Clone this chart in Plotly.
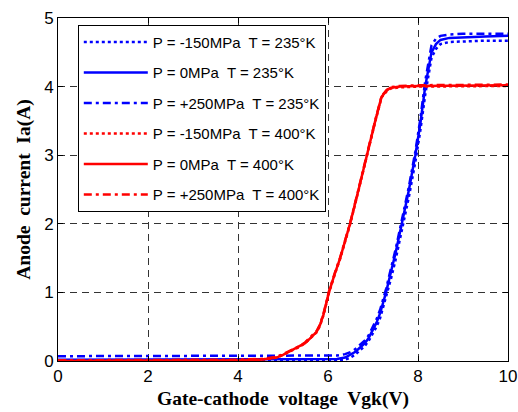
import plotly.graph_objects as go

# Gate-cathode voltage samples (V)
v_235 = [0, 2, 4, 5, 6, 6.2, 6.38, 6.5, 6.6, 6.7, 6.82, 6.9, 7.0, 7.08, 7.16, 7.29, 7.4, 7.5,
         7.64, 7.8, 7.94, 8.05, 8.16, 8.25, 8.3, 8.4, 8.5, 8.7, 9.0, 9.5, 10]
i_235_m150 = [0.0, 0.0, 0.0, 0.01, 0.01, 0.01, 0.02, 0.05, 0.09, 0.15, 0.22, 0.29, 0.4, 0.5, 0.63,
              0.92, 1.2, 1.47, 1.9, 2.4, 2.9, 3.35, 3.88, 4.25, 4.42, 4.55, 4.62, 4.65, 4.66, 4.67, 4.67]
i_235_0 = [0.02, 0.02, 0.02, 0.02, 0.02, 0.03, 0.05, 0.09, 0.13, 0.19, 0.26, 0.33, 0.45, 0.56, 0.7,
           1.0, 1.3, 1.57, 2.0, 2.5, 3.0, 3.45, 4.0, 4.35, 4.5, 4.62, 4.68, 4.71, 4.72, 4.73, 4.74]
i_235_p250 = [0.07, 0.07, 0.07, 0.07, 0.07, 0.08, 0.1, 0.13, 0.17, 0.23, 0.3, 0.37, 0.5, 0.61, 0.75,
              1.05, 1.35, 1.62, 2.05, 2.55, 3.05, 3.52, 4.08, 4.45, 4.6, 4.7, 4.74, 4.76, 4.77, 4.77, 4.77]

v_400 = [0, 2, 4, 4.5, 4.86, 5.0, 5.19, 5.35, 5.49, 5.65, 5.75, 5.82, 5.9, 5.96, 6.02, 6.15, 6.27,
         6.38, 6.49, 6.68, 6.86, 7.05, 7.19, 7.3, 7.38, 7.6, 8.0, 9.0, 10]
i_400_m150 = [0.0, 0.0, 0.01, 0.02, 0.05, 0.09, 0.15, 0.2, 0.26, 0.35, 0.42, 0.51, 0.67, 0.83, 0.99,
              1.26, 1.49, 1.74, 1.99, 2.49, 2.99, 3.49, 3.84, 3.93, 3.97, 3.99, 4.0, 4.01, 4.01]
i_400_0 = [0.0, 0.0, 0.01, 0.02, 0.05, 0.09, 0.155, 0.2, 0.26, 0.36, 0.43, 0.52, 0.68, 0.84, 1.0,
           1.27, 1.5, 1.75, 2.0, 2.5, 3.0, 3.5, 3.85, 3.94, 3.98, 4.0, 4.01, 4.02, 4.02]
i_400_p250 = [0.01, 0.01, 0.02, 0.03, 0.06, 0.1, 0.16, 0.21, 0.27, 0.37, 0.44, 0.53, 0.69, 0.85, 1.01,
              1.28, 1.51, 1.76, 2.01, 2.51, 3.01, 3.51, 3.86, 3.95, 3.99, 4.01, 4.02, 4.03, 4.03]

labels = ["P = -150MPa  T = 235°K", "P = 0MPa  T = 235°K", "P = +250MPa  T = 235°K",
          "P = -150MPa  T = 400°K", "P = 0MPa  T = 400°K", "P = +250MPa  T = 400°K"]

x_title = "Gate-cathode&nbsp; voltage&nbsp; Vgk(V)"
y_title = "Anode&nbsp; current&nbsp; Ia(A)"

x_ticks = [0, 2, 4, 6, 8, 10]
y_ticks = [0, 1, 2, 3, 4, 5]

series = [
    (v_235, i_235_m150, "#0000ff", "dot"),
    (v_235, i_235_0, "#0000ff", "solid"),
    (v_235, i_235_p250, "#0000ff", "8px,4px,3px,4px"),
    (v_400, i_400_m150, "#ff0000", "dot"),
    (v_400, i_400_0, "#ff0000", "solid"),
    (v_400, i_400_p250, "#ff0000", "8px,4px,3px,4px"),
]

fig = go.Figure()
for k, (xv, yv, col, dash) in enumerate(series):
    fig.add_trace(go.Scatter(x=xv, y=yv, mode="lines", name=labels[k], legendgroup=f"g{k}",
                             line=dict(color=col, width=2.5, dash=dash)))

axis_common = dict(showline=True, linecolor="black", linewidth=1, mirror="allticks",
                   ticks="inside", ticklen=5, tickcolor="black",
                   showgrid=True, gridcolor="#333333", griddash="7px,5px", gridwidth=1,
                   zeroline=False, automargin=False,
                   tickfont=dict(family="Liberation Sans, Arial", size=17, color="black"))

title_font = dict(family="Liberation Serif, Times New Roman", size=19.5, color="black")

fig.update_layout(
    width=518, height=412,
    margin=dict(l=58, r=10, t=18, b=51),
    paper_bgcolor="white", plot_bgcolor="white",
    xaxis=dict(range=[0, 10], tickvals=x_ticks,
               title=dict(text=f"<b>{x_title}</b>", standoff=5, font=title_font),
               **axis_common),
    yaxis=dict(range=[0, 5], tickvals=y_ticks,
               title=dict(text=f"<b>{y_title}</b>", standoff=8, font=title_font),
               **axis_common),
    legend=dict(x=0.044, y=0.98, xanchor="left", yanchor="top",
                bgcolor="white", bordercolor="black", borderwidth=1,
                font=dict(family="Liberation Sans, Arial", size=15, color="black"),
                itemwidth=64, tracegroupgap=8, traceorder="grouped"),
    showlegend=True,
)

fig.write_html("out.html", config={"displayModeBar": False},
               post_script="document.body.style.margin='0';document.body.style.overflow='hidden';")
